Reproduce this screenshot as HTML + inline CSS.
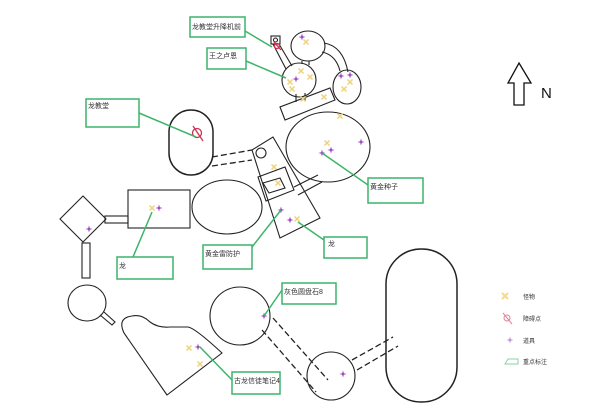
<!DOCTYPE html>
<html><head><meta charset="utf-8"><style>
html,body{margin:0;padding:0;background:#fff;}
svg{display:block}
text{font-family:"Liberation Sans","Noto Sans CJK SC",sans-serif;font-size:7px;fill:#333}
</style></head><body>
<svg width="600" height="409" viewBox="0 0 600 409" xmlns="http://www.w3.org/2000/svg">
<defs>
<g id="x"><path d="M-2.5,-2.5L2.5,2.5M2.5,-2.5L-2.5,2.5" stroke="#efd27a" stroke-width="1.5"/></g>
<g id="s"><path d="M0,-3.5L0.8,-0.8L3.5,0L0.8,0.8L0,3.5L-0.8,0.8L-3.5,0L-0.8,-0.8Z" fill="#9a40c0"/></g>
</defs>
<g fill="none" stroke="#222" stroke-width="1.1">
<rect x="271" y="36" width="9" height="8"/><circle cx="275.5" cy="40" r="2"/>
<path d="M273,44 L286,69 M279,44 L292,66"/>
<ellipse cx="308" cy="46" rx="17" ry="15"/>
<ellipse cx="299" cy="80" rx="17" ry="17"/>
<ellipse cx="347" cy="87" rx="14" ry="17"/>
<path d="M324,43 Q343,46 348,72 M322,52 Q336,55 340,71"/>
<path d="M302,61 L302,64 M309,61 L309,65"/>
<path d="M280,107 L285,120 L335,100 L330,88 Z"/>
<path d="M296,94 L296,102 M305,93 L305,101"/>
<ellipse cx="328" cy="147" rx="42" ry="35"/>
<path d="M252,150 L273,137 L320,218 L280,238 Z"/>
<path d="M258,177 L285,167 L294,190 L266,201 Z"/>
<path d="M263,183 L280,178 L285,188 L269,193 Z"/>
<path d="M294,187 L318,175 M298,195 L322,182"/>
<circle cx="261" cy="153" r="5"/>
<rect x="169" y="110" width="44" height="65" rx="22" ry="22" stroke-width="1.5"/>
<ellipse cx="227" cy="207" rx="35" ry="27"/>
<rect x="128" y="190" width="62" height="38"/>
<path d="M83,196 L106,219 L83,242 L60,219 Z"/>
<rect x="105" y="216" width="23" height="7"/>
<rect x="82" y="243" width="8" height="35"/>
<ellipse cx="87" cy="303" rx="19" ry="18"/>
<path d="M100,315 L112,325 L115,322 L104,312"/>
<path d="M167,395 L124,333 Q117,318 132,316 Q142,314 150,322 Q158,328 170,327 L188,327 Q195,328 222,353 Z"/>
<ellipse cx="240" cy="316" rx="30" ry="29"/>
<circle cx="331" cy="376" r="24"/>
<rect x="386" y="249" width="71" height="153" rx="35" ry="35" stroke-width="1.5"/>
</g>
<g fill="none" stroke="#222" stroke-width="1.3" stroke-dasharray="6,3">
<path d="M212,157 L252,150 M212,166 L252,160"/>
<path d="M273,318 L328,380 M262,330 L316,392"/>
<path d="M352,360 L393,337 M357,370 L398,346"/>
</g>
<g stroke="#d03050" stroke-width="1.3" fill="none">
<circle cx="277" cy="46" r="2.5"/><path d="M274,42 L281,50"/>
<circle cx="197" cy="133" r="4.5"/><path d="M193,126 L203,141"/>
</g>
<use href="#s" x="302" y="37"/><use href="#x" x="306" y="42"/>
<use href="#x" x="301" y="71"/><use href="#s" x="296" y="79"/><use href="#x" x="290" y="82"/><use href="#x" x="310" y="77"/><use href="#x" x="292" y="89"/>
<use href="#s" x="341" y="76"/><use href="#s" x="350" y="75"/><use href="#x" x="350" y="82"/><use href="#x" x="344" y="89"/>
<use href="#x" x="303" y="99"/><use href="#x" x="324" y="97"/><use href="#x" x="340" y="116"/>
<use href="#x" x="327" y="143"/><use href="#s" x="331" y="150"/><use href="#s" x="322" y="153"/><use href="#s" x="361" y="142"/>
<use href="#x" x="274" y="167"/><use href="#x" x="278" y="183"/>
<use href="#s" x="281" y="210"/><use href="#s" x="290" y="220"/><use href="#x" x="297" y="219"/>
<use href="#x" x="152" y="208"/><use href="#s" x="159" y="208"/>
<use href="#s" x="89" y="229"/>
<use href="#x" x="189" y="348"/><use href="#s" x="198" y="347"/><use href="#x" x="200" y="364"/>
<use href="#s" x="264" y="316"/><use href="#s" x="343" y="374"/>
<g fill="none" stroke="#3cb46a" stroke-width="1.5">
<rect x="190" y="17" width="55" height="20"/><path d="M245,31 L272,47"/>
<rect x="207" y="48" width="39" height="21"/><path d="M246,61 L286,78"/>
<rect x="86" y="99" width="53" height="28"/><path d="M139,113 L196,137"/>
<rect x="368" y="178" width="55" height="25"/><path d="M368,185 L322,153"/>
<rect x="324" y="237" width="43" height="21"/><path d="M324,240 L298,222"/>
<rect x="203" y="245" width="49" height="24"/><path d="M252,247 L281,210"/>
<rect x="117" y="257" width="56" height="22"/><path d="M133,257 L152,212"/>
<rect x="282" y="283" width="54" height="21"/><path d="M282,290 L264,316"/>
<rect x="232" y="372" width="48" height="22"/><path d="M232,380 L200,347"/>
</g>
<text x="192" y="29">龙教堂升降机前</text>
<text x="209" y="58">王之卢恩</text>
<text x="88" y="108">龙教堂</text>
<text x="370" y="189">黄金种子</text>
<text x="328" y="246">龙</text>
<text x="205" y="256">黄金雷防护</text>
<text x="119" y="268">龙</text>
<text x="284" y="294">灰色圆盘石8</text>
<text x="234" y="383">古龙信徒笔记4</text>
<g opacity="0.6">
<path d="M502,293 L508,299 M508,293 L502,299" stroke="#f0c040" stroke-width="2"/>
<circle cx="507" cy="318" r="3" fill="none" stroke="#d03050"/><path d="M503,313 L512,324" stroke="#d03050"/>
<use href="#s" x="510" y="340"/>
<path d="M505,364 L508,359 L518,359 L518,364 Z" fill="none" stroke="#3cb46a"/>
</g>
<text x="523" y="299" style="font-size:6px">怪物</text>
<text x="523" y="321" style="font-size:6px">障碍点</text>
<text x="523" y="343" style="font-size:6px">道具</text>
<text x="523" y="364" style="font-size:6px">重点标注</text>
<path d="M519,63 L531,83 L524,83 L524,105 L514,105 L514,83 L508,83 Z" fill="none" stroke="#111" stroke-width="1.3"/>
<text x="541" y="98" style="font-size:15px;fill:#111">N</text>
</svg>
</body></html>
